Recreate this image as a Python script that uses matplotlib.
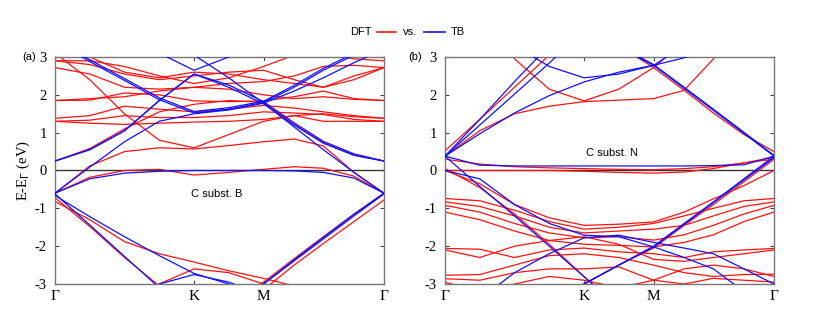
import numpy as np
import matplotlib
matplotlib.use('Agg')
import matplotlib.pyplot as plt
from matplotlib.lines import Line2D

# k-path positions (Gamma - K - M - Gamma), |GK| = 1
k_path = [0.0, 0.25, 0.5, 0.75, 1.0, 1.25, 1.5, 1.72, 1.93, 2.15, 2.366]
k_ticks = [0.0, 1.0, 1.5, 2.366]
k_labels = ['Γ', 'K', 'M', 'Γ']

# panel (a): C substituted by B
tb_a = [
    [0.25, 0.55, 1.05, 1.85, 2.55, 2.2, 1.76, 1.2, 0.72, 0.4, 0.25],
    [0.25, 0.55, 1.05, 1.85, 2.55, 2.26, 1.82, 1.26, 0.77, 0.44, 0.25],
    [4.0, 3.8, 3.5, 3.1, 2.65, 3.0, 3.4, 3.8, 4.0, 4.0, 4.0],
    [3.4, 2.88, 2.38, 1.87, 1.52, 1.62, 1.8, 2.2, 2.65, 3.05, 3.6],
    [3.45, 2.93, 2.43, 1.92, 1.56, 1.66, 1.83, 2.25, 2.7, 3.1, 3.6],
    [-0.6, 0.09, 0.76, 1.3, 1.5, 1.6, 1.78, 2.1, 2.45, 2.85, 3.2],
    [3.9, 3.7, 3.5, 3.3, 3.05, 2.45, 1.78, 1.15, 0.55, -0.05, -0.6],
    [-0.6, -0.22, -0.07, -0.02, 0.0, 0.0, 0.0, -0.01, -0.05, -0.2, -0.6],
    [-0.62, -1.44, -2.27, -3.1, -3.8, -4.0, -4.0, -4.0, -4.0, -4.0, -4.0],
    [-4.5, -4.0, -3.5, -3.0, -2.75, -2.95, -3.3, -3.8, -4.2, -4.5, -5.0],
    [-5.0, -5.0, -5.0, -4.6, -4.0, -3.5, -3.0, -2.39, -1.81, -1.2, -0.62],
    [-5.0, -5.0, -5.0, -4.6, -4.0, -3.5, -3.0, -2.36, -1.77, -1.16, -0.6],
    [-0.66, -1.22, -1.75, -2.25, -2.72, -3.0, -3.4, -4.0, -4.0, -4.0, -4.0],
]
dft_a = [
    [-0.6, -0.18, 0.0, 0.03, -0.12, -0.05, 0.03, 0.1, 0.06, -0.15, -0.6],
    [-0.6, 0.12, 0.5, 0.6, 0.57, 0.66, 0.76, 0.83, 0.65, -0.05, -0.6],
    [0.25, 0.58, 1.1, 1.55, 1.75, 1.85, 1.8, 1.22, 0.74, 0.41, 0.25],
    [2.9, 2.9, 2.75, 2.5, 2.3, 2.45, 2.75, 3.05, 3.1, 2.95, 2.9],
    [2.72, 2.55, 2.2, 2.15, 2.2, 2.3, 2.35, 2.5, 2.75, 2.78, 2.72],
    [1.85, 1.86, 2.05, 2.0, 1.84, 1.82, 1.84, 1.95, 2.1, 1.9, 1.85],
    [1.38, 1.45, 1.7, 1.62, 1.55, 1.62, 1.72, 1.65, 1.55, 1.45, 1.38],
    [1.3, 1.33, 1.45, 1.4, 1.4, 1.45, 1.55, 1.52, 1.48, 1.35, 1.3],
    [1.3, 1.25, 1.22, 1.25, 1.28, 1.3, 1.35, 1.45, 1.3, 1.3, 1.3],
    [3.1, 2.4, 1.5, 0.8, 0.6, 0.95, 1.3, 1.45, 1.5, 1.42, 1.38],
    [3.5, 3.0, 2.6, 2.45, 2.6, 2.55, 2.4, 2.3, 2.2, 2.4, 2.72],
    [2.9, 2.8, 2.55, 2.4, 2.5, 2.6, 2.65, 2.4, 2.2, 2.5, 2.72],
    [1.85, 1.9, 1.95, 2.1, 2.2, 2.15, 2.0, 1.9, 1.95, 1.88, 1.85],
    [-0.72, -1.48, -2.3, -3.05, -3.6, -4.0, -4.0, -4.0, -4.0, -4.0, -4.0],
    [-0.82, -1.3, -1.88, -2.2, -2.42, -2.65, -2.85, -3.05, -3.5, -4.0, -4.0],
    [-4.0, -4.0, -3.5, -3.0, -2.6, -2.7, -3.0, -3.5, -4.0, -4.0, -4.0],
    [-5.0, -5.0, -5.0, -4.6, -4.0, -3.45, -2.95, -2.33, -1.75, -1.15, -0.6],
    [-5.0, -5.0, -5.0, -4.6, -4.0, -3.6, -3.15, -2.5, -1.93, -1.35, -0.78],
]

# panel (b): C substituted by N
tb_b = [
    [0.38, 1.2, 2.02, 2.84, 3.7, 4.5, 5.0, 5.0, 5.0, 5.0, 5.0],
    [0.38, 1.35, 2.35, 3.3, 4.3, 5.0, 5.0, 5.0, 5.0, 5.0, 5.0],
    [0.38, 0.97, 1.52, 1.98, 2.34, 2.6, 2.78, 2.98, 3.2, 3.6, 4.0],
    [5.0, 4.5, 3.3, 2.75, 2.45, 2.55, 2.78, 3.3, 3.9, 4.5, 5.0],
    [5.0, 5.0, 5.0, 4.8, 4.0, 3.25, 2.78, 2.17, 1.59, 0.98, 0.38],
    [5.0, 5.0, 5.0, 4.8, 4.05, 3.3, 2.8, 2.2, 1.62, 1.01, 0.4],
    [0.38, 0.14, 0.12, 0.12, 0.12, 0.12, 0.12, 0.12, 0.13, 0.15, 0.38],
    [0.0, -0.22, -0.9, -1.4, -1.71, -1.75, -2.02, -2.3, -2.6, -3.2, -3.6],
    [0.38, -0.42, -1.2, -2.0, -2.81, -3.6, -4.0, -4.0, -4.0, -4.0, -4.0],
    [-5.0, -4.5, -4.0, -3.5, -3.0, -2.5, -2.02, -1.42, -0.85, -0.25, 0.34],
    [-5.0, -4.5, -4.0, -3.5, -3.0, -2.5, -2.0, -1.4, -0.83, -0.22, 0.38],
    [-4.0, -3.4, -2.7, -2.2, -1.78, -1.71, -1.9, -2.05, -2.2, -2.6, -3.0],
]
dft_b = [
    [0.38, 1.05, 1.5, 1.7, 1.82, 1.86, 1.9, 2.12, 2.95, 3.8, 4.2],
    [5.0, 4.3, 2.95, 2.15, 1.84, 2.15, 2.72, 3.4, 4.2, 5.0, 5.0],
    [0.52, 1.35, 2.2, 3.05, 3.9, 4.5, 5.0, 5.0, 5.0, 5.0, 5.0],
    [5.0, 5.0, 5.0, 4.7, 3.95, 3.3, 2.72, 2.12, 1.52, 0.95, 0.5],
    [0.3, 0.17, 0.1, 0.07, 0.05, 0.03, 0.02, 0.05, 0.1, 0.2, 0.3],
    [0.0, 0.0, 0.0, 0.0, -0.02, -0.05, -0.07, -0.04, 0.05, 0.2, 0.35],
    [0.0, -0.35, -0.9, -1.25, -1.45, -1.42, -1.36, -1.1, -0.75, -0.4, 0.0],
    [-0.74, -0.8, -1.05, -1.35, -1.55, -1.5, -1.4, -1.2, -1.0, -0.8, -0.74],
    [-0.83, -0.95, -1.2, -1.5, -1.65, -1.6, -1.55, -1.45, -1.2, -0.95, -0.83],
    [-0.92, -1.1, -1.4, -1.65, -1.78, -1.75, -1.84, -1.7, -1.45, -1.15, -0.92],
    [-1.1, -1.3, -1.6, -1.85, -1.95, -1.98, -2.02, -1.9, -1.7, -1.35, -1.1],
    [-2.06, -2.08, -2.3, -2.1, -2.05, -2.15, -2.2, -2.3, -2.15, -2.1, -2.06],
    [-2.1, -2.3, -2.0, -1.85, -1.75, -1.95, -2.35, -2.4, -2.3, -2.2, -2.1],
    [-2.77, -2.75, -2.5, -2.25, -2.2, -2.3, -2.5, -2.7, -2.8, -2.75, -2.74],
    [-2.86, -2.9, -2.7, -2.6, -2.6, -2.55, -2.9, -2.6, -2.5, -2.6, -2.8],
    [-2.95, -3.2, -3.0, -2.8, -2.9, -3.1, -2.9, -3.0, -2.85, -2.9, -2.95],
    [0.05, -0.45, -1.15, -1.95, -2.8, -3.6, -4.0, -4.0, -4.0, -4.0, -4.0],
    [-5.0, -4.5, -4.0, -3.5, -3.0, -2.5, -2.05, -1.45, -0.9, -0.3, 0.3],
]

SERIF = 'Liberation Serif'
SANS = 'Liberation Sans'


def draw_panel(ax, dft, tb, note, note_xy):
    for band in dft:
        ax.plot(k_path, band, color='#ff1010', lw=0.9, zorder=2)
    for band in tb:
        ax.plot(k_path, band, color='#1010ff', lw=0.9, zorder=3)
    ax.axhline(0, color='#333333', lw=1.0, zorder=1)
    for kx in k_ticks[1:-1]:
        ax.plot([kx, kx], [-3, -2.93], color='#444444', lw=0.8)
        ax.plot([kx, kx], [3, 2.93], color='#444444', lw=0.8)
    ax.set_xlim(0, k_ticks[-1])
    ax.set_ylim(-3, 3)
    ax.set_xticks(k_ticks)
    ax.set_xticklabels(k_labels, fontfamily=SERIF, fontsize=11)
    ax.set_yticks([-3, -2, -1, 0, 1, 2, 3])
    ax.set_yticklabels(['-3', '-2', '-1', '0', '1', '2', '3'], fontfamily=SERIF, fontsize=10.5)
    ax.tick_params(axis='y', direction='in', length=3, right=True, color='#444444', pad=6)
    ax.tick_params(axis='x', length=0, pad=4)
    for s in ax.spines.values():
        s.set_color('#777777')
        s.set_linewidth(1.0)
    ax.text(note_xy[0], note_xy[1], note, fontfamily=SANS, fontsize=8,
            ha='center', va='center')


def main():
    fig = plt.figure(figsize=(8.22, 3.11), dpi=100)
    ax_a = fig.add_axes([55 / 822, 1 - 284 / 311, 329 / 822, 227 / 311])
    ax_b = fig.add_axes([445 / 822, 1 - 284 / 311, 329 / 822, 227 / 311])

    draw_panel(ax_a, dft_a, tb_a, 'C subst. B', (1.16, -0.63))
    draw_panel(ax_b, dft_b, tb_b, 'C subst. N', (1.2, 0.47))

    ax_a.set_ylabel('E-E$_\\Gamma$ (eV)', fontfamily=SERIF, fontsize=10.5, labelpad=2)

    fig.text(22 / 822, 1 - 57 / 311, '(a)', fontfamily=SANS, fontsize=8, va='center')
    fig.text(408 / 822, 1 - 57 / 311, '(b)', fontfamily=SANS, fontsize=8, va='center')

    # legend at top
    y_leg = 1 - 32 / 311
    fig.text(372 / 822, y_leg, 'DFT', fontfamily=SANS, fontsize=8, ha='right', va='center')
    fig.add_artist(Line2D([377 / 822, 396 / 822], [y_leg, y_leg], color='#ff1010', lw=1.2))
    fig.text(410 / 822, y_leg, 'vs.', fontfamily=SANS, fontsize=8, ha='center', va='center')
    fig.add_artist(Line2D([424 / 822, 445 / 822], [y_leg, y_leg], color='#1010ff', lw=1.2))
    fig.text(451 / 822, y_leg, 'TB', fontfamily=SANS, fontsize=8, ha='left', va='center')

    fig.savefig('out.png', dpi=100)


if __name__ == '__main__':
    main()
